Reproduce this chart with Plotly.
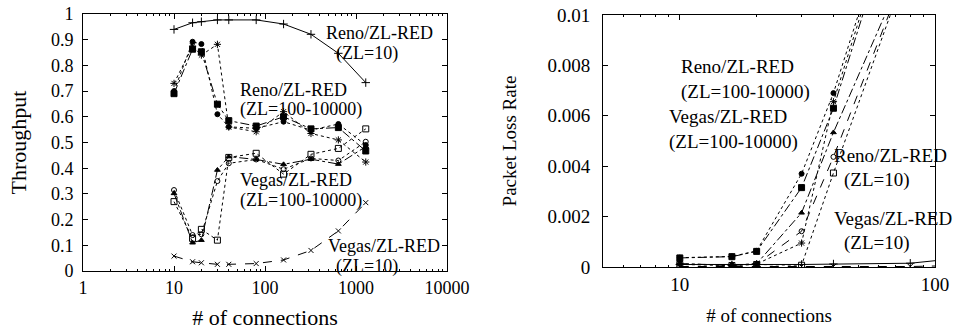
import plotly.graph_objects as go

# ---------------- data ----------------
conn_left = [10, 16, 20, 30, 40, 80, 160, 320, 640, 1280]
reno_zl10_thr = [0.94, 0.966, 0.97, 0.977, 0.977, 0.977, 0.961, 0.921, 0.847, 0.733]
vegas_zl10_thr = [0.058, 0.036, 0.032, 0.026, 0.026, 0.029, 0.043, 0.08, 0.156, 0.266]
reno_a_thr = [0.70, 0.892, 0.883, 0.61, 0.561, 0.555, 0.581, 0.548, 0.572, 0.49]
reno_b_thr = [0.69, 0.863, 0.853, 0.649, 0.585, 0.564, 0.60, 0.553, 0.558, 0.467]
reno_c_thr = [0.73, 0.875, 0.84, 0.882, 0.56, 0.542, 0.62, 0.535, 0.51, 0.424]
vegas_a_thr = [0.302, 0.11, 0.12, 0.393, 0.445, 0.434, 0.415, 0.435, 0.416, 0.484]
vegas_b_thr = [0.315, 0.14, 0.143, 0.35, 0.419, 0.434, 0.396, 0.438, 0.43, 0.503]
vegas_c_thr = [0.27, 0.127, 0.162, 0.12, 0.442, 0.458, 0.377, 0.454, 0.477, 0.553]

conn_right = [10, 16, 20, 30, 40, 80, 160]
reno_zl10_loss = [0.0001, 0.00008, 0.0001, 0.0001, 0.00012, 0.00015, 0.00046]
vegas_zl10_loss = [0.00002, 0.00002, 0.00002, 0.00002, 0.00002, 0.00002, 0.00008]
reno_a_loss = [0.00037, 0.00042, 0.00064, 0.0037, 0.0069, 0.0165]
reno_b_loss = [0.00036, 0.00041, 0.00062, 0.00315, 0.0063, 0.016]
reno_c_loss = [0.00012, 0.00008, 0.00012, 0.00095, 0.00656, 0.0163]
vegas_a_loss = [0.00013, 0.00007, 0.00013, 0.00215, 0.00534, 0.0123]
vegas_b_loss = [0.00012, 0.00007, 0.00012, 0.00142, 0.00437, 0.0122]
vegas_c_loss = [0.0001, 0.00006, 0.0001, 0.00007, 0.00373, 0.0122]

left_xticks = [1, 10, 100, 1000, 10000]
left_xticktext = ["1", "10", "100", "1000", "10000"]
left_yticks = [0, 0.1, 0.2, 0.3, 0.4, 0.5, 0.6, 0.7, 0.8, 0.9, 1]
left_yticktext = ["0", "0.1", "0.2", "0.3", "0.4", "0.5", "0.6", "0.7", "0.8", "0.9", "1"]
right_xticks = [10, 100]
right_xticktext = ["10", "100"]
right_yticks = [0, 0.002, 0.004, 0.006, 0.008, 0.01]
right_yticktext = ["0", "0.002", "0.004", "0.006", "0.008", "0.01"]

# ---------------- figure ----------------
W, H = 959, 330
FONT = "Liberation Serif, Times New Roman, serif"
fig = go.Figure()


def add(x, y, xa, ya, dash, symbol, size, width=1):
    fig.add_trace(go.Scatter(
        x=x, y=y, xaxis=xa, yaxis=ya, mode="lines+markers",
        line=dict(color="black", width=width, dash=dash),
        marker=dict(symbol=symbol, size=size, color="black",
                    line=dict(color="black", width=1)),
        showlegend=False))


# left panel
add(conn_left, reno_zl10_thr, "x", "y", "solid", "cross-thin", 6)
add(conn_left, vegas_zl10_thr, "x", "y", "dash", "x-thin", 5)
add(conn_left, reno_a_thr, "x", "y", "dot", "circle", 5)
add(conn_left, reno_b_thr, "x", "y", "dashdot", "square", 6)
add(conn_left, reno_c_thr, "x", "y", "dot", "asterisk", 6)
add(conn_left, vegas_a_thr, "x", "y", "dashdot", "triangle-up", 5)
add(conn_left, vegas_b_thr, "x", "y", "dot", "circle-open", 5)
add(conn_left, vegas_c_thr, "x", "y", "dot", "square-open", 6)

# right panel
add(conn_right, reno_zl10_loss, "x2", "y2", "solid", "cross-thin", 6)
add(conn_right, vegas_zl10_loss, "x2", "y2", "dash", "x-thin", 5)
add(conn_right[:6], reno_a_loss, "x2", "y2", "dot", "circle", 5)
add(conn_right[:6], reno_b_loss, "x2", "y2", "dashdot", "square", 6)
add(conn_right[:6], reno_c_loss, "x2", "y2", "dot", "asterisk", 6)
add(conn_right[:6], vegas_a_loss, "x2", "y2", "dashdot", "triangle-up", 5)
add(conn_right[:6], vegas_b_loss, "x2", "y2", "dash", "circle-open", 5)
add(conn_right[:6], vegas_c_loss, "x2", "y2", "dot", "square-open", 6)


def px2x(p):
    return p / W


def px2y(p):
    return 1 - p / H


minor_left = [m * 10 ** e for e in range(0, 4) for m in range(2, 10)]
minor_right = [m * 10 ** e for e in range(0, 2) for m in range(2, 10)]

axis_common = dict(showline=True, linecolor="black", linewidth=1, mirror="allticks",
                   ticks="inside", ticklen=5, tickcolor="black", showgrid=False,
                   zeroline=False, automargin=False)

fig.update_layout(
    width=W, height=H, margin=dict(l=0, r=0, t=0, b=0),
    paper_bgcolor="white", plot_bgcolor="white",
    font=dict(family=FONT, size=18, color="black"),
    xaxis=dict(type="log", range=[0, 4], domain=[px2x(83), px2x(447)], anchor="y",
               tickvals=left_xticks, ticktext=left_xticktext,
               minor=dict(tickvals=minor_left, ticks="inside", ticklen=2, tickcolor="black", showgrid=False),
               title=dict(text="# of connections", standoff=14),
               ticklabelstandoff=0, **axis_common),
    yaxis=dict(range=[0, 1], domain=[px2y(271), px2y(14)], anchor="x",
               tickvals=left_yticks, ticktext=left_yticktext,
               title=dict(text="Throughput", standoff=18),
               ticklabelstandoff=5, **axis_common),
    xaxis2=dict(type="log", range=[0.69897, 2], domain=[px2x(603), px2x(935)], anchor="y2",
                tickvals=right_xticks, ticktext=right_xticktext,
                minor=dict(tickvals=minor_right, ticks="inside", ticklen=2, tickcolor="black", showgrid=False),
                title=dict(text="# of connections", standoff=14, font=dict(size=19)),
                tickfont=dict(size=19), ticklabelstandoff=0, **axis_common),
    yaxis2=dict(range=[0, 0.01], domain=[px2y(267), px2y(15)], anchor="x2",
                tickvals=right_yticks, ticktext=right_yticktext,
                title=dict(text="Packet Loss Rate", standoff=25, font=dict(size=19)),
                tickfont=dict(size=19), ticklabelstandoff=8, **axis_common),
)

labels = [
    ("Reno/ZL-RED", 325, 33, 18), ("(ZL=10)", 335, 53, 18),
    ("Reno/ZL-RED", 239, 90, 18), ("(ZL=100-10000)", 239, 110, 18),
    ("Vegas/ZL-RED", 239, 180, 18), ("(ZL=100-10000)", 239, 200, 18),
    ("Vegas/ZL-RED", 327, 246, 18), ("(ZL=10)", 335, 266, 18),
    ("Reno/ZL-RED", 680, 67, 19), ("(ZL=100-10000)", 680, 92, 19),
    ("Vegas/ZL-RED", 668, 117, 19), ("(ZL=100-10000)", 668, 142, 19),
    ("Reno/ZL-RED", 833, 155, 19), ("(ZL=10)", 843, 180, 19),
    ("Vegas/ZL-RED", 833, 218, 19), ("(ZL=10)", 843, 243, 19),
]
for text, lx, cy, fs in labels:
    fig.add_annotation(text=text, x=px2x(lx), y=px2y(cy), xref="paper", yref="paper",
                       xanchor="left", yanchor="middle", showarrow=False,
                       font=dict(family=FONT, size=fs, color="black"), borderpad=0)

fig.write_html("out.html")
